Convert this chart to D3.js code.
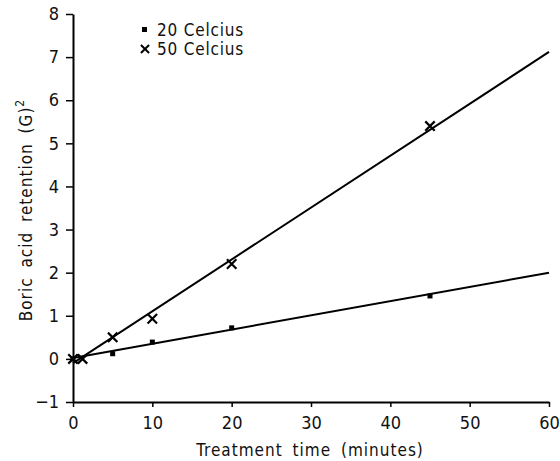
<!DOCTYPE html>
<html lang="en">
<head>
  <meta charset="UTF-8">
  <title>Boric acid retention</title>
  <script src="https://d3js.org/d3.v7.min.js"></script>
  <style>
    body { margin: 0; background: #fff; }
    text { font-family: "DejaVu Sans Condensed", "DejaVu Sans", sans-serif; fill: #111; }
  </style>
</head>
<body>
<div id="chart"></div>
<script>
// measured points
const c20Time = [0, 5, 10, 20, 45];
const c20Value = [0, 0.12, 0.39, 0.72, 1.46];
const c50Time = [0, 1.2, 5, 10, 20, 45];
const c50Value = [0, 0, 0.5, 0.93, 2.2, 5.4];

// fitted lines (end points)
const fit20 = [[0, 0.02], [60, 2.0]];
const fit50 = [[0, -0.1], [60, 7.12]];

const xTicks = [0, 10, 20, 30, 40, 50, 60];
const yTicks = [-1, 0, 1, 2, 3, 4, 5, 6, 7, 8];
const legendLabels = ["20 Celcius", "50 Celcius"];

const width = 560, height = 461;
const svg = d3.select("#chart").append("svg")
  .attr("width", width)
  .attr("height", height);

const x = d3.scaleLinear().domain([0, 60]).range([73, 549]);
const y = d3.scaleLinear().domain([-1, 8]).range([402, 14]);

// x axis
const xAxis = svg.append("g")
  .attr("transform", `translate(0,${y(-1)})`)
  .call(d3.axisBottom(x).tickValues(xTicks).tickSize(5).tickSizeOuter(0).tickPadding(9));
xAxis.select(".domain").attr("stroke-width", 2);
xAxis.selectAll(".tick line").attr("stroke-width", 1.5);
xAxis.selectAll("text").style("font-size", "18px");

// y axis
const yAxis = svg.append("g")
  .attr("transform", `translate(${x(0)},0)`)
  .call(d3.axisLeft(y).tickValues(yTicks).tickSize(7).tickSizeOuter(0).tickPadding(7));
yAxis.select(".domain").attr("stroke-width", 2);
yAxis.selectAll(".tick line").attr("stroke-width", 1.5);
yAxis.selectAll("text").style("font-size", "18px");

// fitted lines
const line = d3.line().x(d => x(d[0])).y(d => y(d[1]));
[fit20, fit50].forEach(f => {
  svg.append("path")
    .attr("d", line(f))
    .attr("fill", "none")
    .attr("stroke", "#000")
    .attr("stroke-width", 2);
});

// 20 C squares
svg.selectAll(".sq")
  .data(c20Time.map((t, i) => [t, c20Value[i]]))
  .join("rect")
  .attr("x", d => x(d[0]) - 2.5)
  .attr("y", d => y(d[1]) - 2.5)
  .attr("width", 5)
  .attr("height", 5)
  .attr("fill", "#000");

// 50 C crosses
const cross = d3.symbol().type(d3.symbolX).size(60);
svg.selectAll(".cr")
  .data(c50Time.map((t, i) => [t, c50Value[i]]))
  .join("path")
  .attr("d", cross)
  .attr("transform", d => `translate(${x(d[0])},${y(d[1])})`)
  .attr("fill", "none")
  .attr("stroke", "#000")
  .attr("stroke-width", 2.2);

// legend
const lg = svg.append("g");
lg.append("rect").attr("x", 142).attr("y", 27).attr("width", 5).attr("height", 5).attr("fill", "#000");
lg.append("path").attr("d", d3.symbol().type(d3.symbolX).size(45)).attr("transform", "translate(145,49)")
  .attr("fill", "none").attr("stroke", "#000").attr("stroke-width", 2);
lg.selectAll("text").data(legendLabels).join("text")
  .attr("x", 157)
  .attr("y", (d, i) => 36 + i * 19)
  .style("font-size", "17px")
  .style("letter-spacing", "0.8px")
  .text(d => d);

// axis titles
svg.append("text")
  .attr("x", 310).attr("y", 456)
  .attr("text-anchor", "middle")
  .style("font-size", "17px")
  .style("letter-spacing", "1px")
  .style("word-spacing", "4px")
  .text("Treatment time (minutes)");

const yt = svg.append("text")
  .attr("transform", "translate(32,210) rotate(-90)")
  .attr("text-anchor", "middle")
  .style("font-size", "17px")
  .style("letter-spacing", "1px")
  .style("word-spacing", "4px");
yt.append("tspan").text("Boric acid retention (G)");
yt.append("tspan").attr("dy", -8).style("font-size", "12px").text("2");
</script>
</body>
</html>
